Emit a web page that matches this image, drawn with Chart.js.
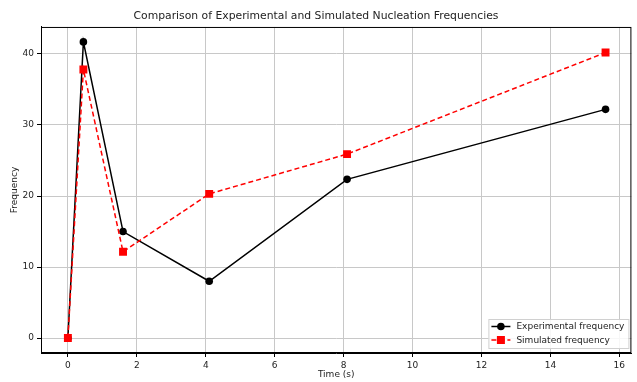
<!DOCTYPE html>
<html>
<head>
  <title>Nucleation Frequencies</title>
  <script src="https://cdn.jsdelivr.net/npm/chart.js"></script>
  <style>
    body { margin: 0; background: #fff; }
    #wrap { width: 637px; height: 382px; }
  </style>
</head>
<body>
  <div id="wrap"><canvas id="freqChart" width="637" height="382"></canvas></div>

  <script>
    // values
    const timeValues = [0, 0.45, 1.6, 4.1, 8.1, 15.6];
    const experimental = [0, 41.7, 15.0, 8.0, 22.35, 32.2];
    const simulated = [0, 37.8, 12.15, 20.3, 25.9, 40.2];
    const xTicks = [0, 2, 4, 6, 8, 10, 12, 14, 16];
    const yTicks = [0, 10, 20, 30, 40];

    const FONT = 'DejaVu Sans';

    function toPoints(xs, ys) {
      return xs.map((x, i) => ({ x: x, y: ys[i] }));
    }

    // frame on top/right + matplotlib-like legend box
    const framePlugin = {
      id: 'frame',
      afterDatasetsDraw(chart) {
        const { ctx, chartArea: a } = chart;
        ctx.save();
        ctx.strokeStyle = '#000';
        ctx.lineWidth = 1;
        ctx.strokeRect(a.left + 0.5, a.top + 0.5, a.right - a.left - 1, a.bottom - a.top - 1);

        // legend
        const w = 140, h = 29;
        const bx = a.right - w - 3, by = a.bottom - h - 5;
        ctx.fillStyle = 'rgba(255,255,255,0.85)';
        ctx.strokeStyle = '#d0d0d0';
        ctx.fillRect(bx, by, w, h);
        ctx.strokeRect(bx + 0.5, by + 0.5, w, h);
        ctx.font = '9px ' + FONT;
        ctx.textBaseline = 'middle';
        chart.data.datasets.forEach((ds, i) => {
          const y = by + 7.5 + i * 13.5;
          ctx.strokeStyle = ds.borderColor;
          ctx.lineWidth = 1.5;
          ctx.setLineDash(ds.borderDash || []);
          ctx.beginPath();
          ctx.moveTo(bx + 3, y);
          ctx.lineTo(bx + 22, y);
          ctx.stroke();
          ctx.setLineDash([]);
          ctx.fillStyle = ds.pointBackgroundColor;
          if (ds.pointStyle === 'rect') {
            ctx.fillRect(bx + 12.5 - 4, y - 4, 8, 8);
          } else {
            ctx.beginPath();
            ctx.arc(bx + 12.5, y, 3.8, 0, Math.PI * 2);
            ctx.fill();
          }
          ctx.fillStyle = '#222';
          ctx.fillText(ds.label, bx + 28, y + 0.5);
        });
        ctx.restore();
      }
    };

    const ctx = document.getElementById('freqChart').getContext('2d');
    new Chart(ctx, {
      type: 'line',
      data: {
        datasets: [{
          label: 'Experimental frequency',
          data: toPoints(timeValues, experimental),
          borderColor: '#000',
          backgroundColor: '#000',
          pointBackgroundColor: '#000',
          pointBorderWidth: 0,
          borderWidth: 1.5,
          pointStyle: 'circle',
          pointRadius: 3.8,
          tension: 0,
          order: 1
        }, {
          label: 'Simulated frequency',
          data: toPoints(timeValues, simulated),
          borderColor: '#f00',
          backgroundColor: '#f00',
          pointBackgroundColor: '#f00',
          pointBorderWidth: 0,
          borderWidth: 1.5,
          borderDash: [5, 3],
          pointStyle: 'rect',
          pointRadius: 5.6,
          tension: 0,
          order: 0
        }]
      },
      options: {
        responsive: false,
        animation: false,
        layout: { padding: { top: 0, right: 5, bottom: 0, left: 0 } },
        plugins: {
          legend: { display: false },
          tooltip: { enabled: false },
          title: {
            display: true,
            text: 'Comparison of Experimental and Simulated Nucleation Frequencies',
            color: '#222',
            font: { family: FONT, size: 10.8, weight: 'normal' },
            padding: { top: 10, bottom: 4 }
          }
        },
        scales: {
          x: {
            type: 'linear',
            min: -0.78,
            max: 16.35,
            afterBuildTicks: axis => { axis.ticks = xTicks.map(v => ({ value: v })); },
            ticks: { color: '#222', font: { family: FONT, size: 9 }, padding: 3 },
            grid: { color: '#c8c8c8', lineWidth: 1, tickColor: '#000', tickLength: 4 },
            border: { color: '#000', width: 1 },
            title: { display: true, text: 'Time (s)', color: '#222', font: { family: FONT, size: 9 }, padding: { top: 2, bottom: 2 } },
            afterFit: axis => { axis.height = 29; }
          },
          y: {
            min: -2.1,
            max: 43.8,
            afterBuildTicks: axis => { axis.ticks = yTicks.map(v => ({ value: v })); },
            ticks: { color: '#222', font: { family: FONT, size: 9 }, padding: 3 },
            grid: { color: '#c8c8c8', lineWidth: 1, tickColor: '#000', tickLength: 4 },
            border: { color: '#000', width: 1 },
            title: { display: true, text: 'Frequency', color: '#222', font: { family: FONT, size: 9 }, padding: { top: 9, bottom: 0 } },
            afterFit: axis => { axis.width = 41; }
          }
        }
      },
      plugins: [framePlugin]
    });
  </script>
</body>
</html>
